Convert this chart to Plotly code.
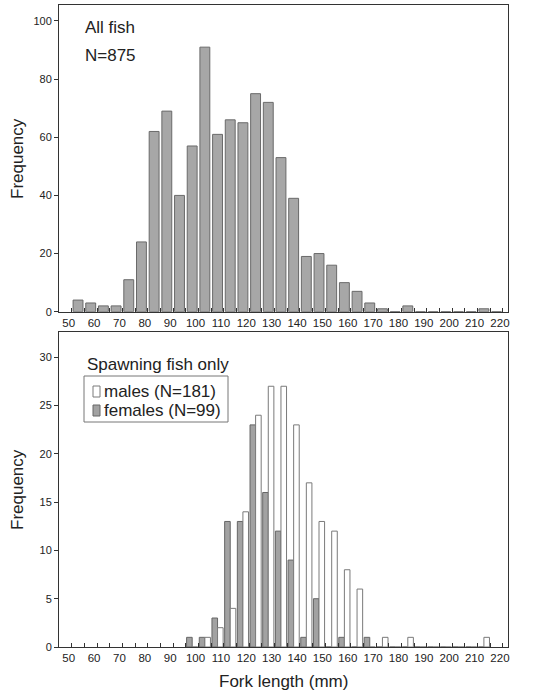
import plotly.graph_objects as go

# ---- data (5 mm fork-length bins, lower bin edge) ----
all_bins = [50, 55, 60, 65, 70, 75, 80, 85, 90, 95, 100, 105, 110, 115, 120, 125,
            130, 135, 140, 145, 150, 155, 160, 165, 170, 175, 180, 185, 190, 195,
            200, 205, 210, 215]
all_freq = [4, 3, 2, 2, 11, 24, 62, 69, 40, 57, 91, 61, 66, 65, 75, 72,
            53, 39, 19, 20, 16, 10, 7, 3, 1, 0, 2, 0, 0, 0,
            0, 0, 1, 0]

sp_bins = [95, 100, 105, 110, 115, 120, 125, 130, 135, 140, 145, 150, 155, 160,
           165, 170, 175, 180, 185, 190, 195, 200, 205, 210]
female_freq = [1, 1, 3, 13, 13, 23, 16, 12, 9, 1, 5, 0, 1, 0,
               1, 0, 0, 0, 0, 0, 0, 0, 0, 0]
male_freq = [0, 1, 2, 4, 14, 24, 27, 27, 23, 17, 13, 12, 8, 6,
             0, 1, 0, 1, 0, 0, 0, 0, 0, 1]

x_tickvals = list(range(50, 225, 5))
x_ticktext = [str(v) if v % 10 == 0 else "" for v in x_tickvals]
top_yticks = [0, 20, 40, 60, 80, 100]
bot_yticks = [0, 5, 10, 15, 20, 25, 30]

BIN = 5
FONT = "Liberation Sans, Arial, Helvetica, sans-serif"
INK = "#222222"

fig = go.Figure()

fig.add_trace(go.Bar(
    x=[b + BIN / 2 for b in all_bins], y=all_freq, width=3.9,
    marker=dict(color="#a7a7a7", line=dict(color="#6a6a6a", width=1)),
    xaxis="x", yaxis="y", showlegend=False, name="All fish"))

fig.add_trace(go.Bar(
    x=[b + BIN / 2 for b in sp_bins], y=female_freq,
    marker=dict(color="#a2a2a2", line=dict(color="#666666", width=1)),
    xaxis="x2", yaxis="y2", showlegend=False, name="females (N=99)"))
fig.add_trace(go.Bar(
    x=[b + BIN / 2 for b in sp_bins], y=male_freq,
    marker=dict(color="#ffffff", line=dict(color="#7a7a7a", width=1)),
    xaxis="x2", yaxis="y2", showlegend=False, name="males (N=181)"))

# plot geometry (pixels)
W, H = 546, 693
L, R, T, B = 59, 38, 5, 46
PW, PH = W - L - R, H - T - B


def px(xp):
    return (xp - L) / PW


def py(yp):
    return (H - B - yp) / PH


xcommon = dict(range=[45, 222], tickmode="array", tickvals=x_tickvals,
               ticktext=x_ticktext, ticks="inside", ticklen=4, tickcolor="#333",
               showline=True, linecolor="#333", linewidth=1, mirror=True,
               showgrid=False, zeroline=False, ticklabelshift=-3,
               tickfont=dict(family=FONT, size=11.5, color=INK))
ycommon = dict(ticks="outside", ticklen=4, tickcolor="#333", showline=True,
               linecolor="#333", linewidth=1, mirror=True, showgrid=False,
               zeroline=False, tickfont=dict(family=FONT, size=11, color=INK))

fig.update_layout(
    width=W, height=H, margin=dict(l=L, r=R, t=T, b=B),
    paper_bgcolor="white", plot_bgcolor="white",
    barmode="group", bargap=0.12, bargroupgap=0,
    showlegend=False,
    xaxis=dict(domain=[0, 1], anchor="y", **xcommon),
    yaxis=dict(domain=[py(311.7), 1], anchor="x", range=[0, 105.5],
               tickvals=top_yticks, **ycommon),
    xaxis2=dict(domain=[0, 1], anchor="y2", **xcommon),
    yaxis2=dict(domain=[0, py(331.7)], anchor="x2", range=[0, 32.65],
                tickvals=bot_yticks, **ycommon),
)

ann = []
ann.append(dict(text="All fish", x=px(83), y=py(27), xref="paper", yref="paper",
                xanchor="left", yanchor="middle", showarrow=False,
                font=dict(family=FONT, size=17, color=INK)))
ann.append(dict(text="N=875", x=px(83), y=py(55), xref="paper", yref="paper",
                xanchor="left", yanchor="middle", showarrow=False,
                font=dict(family=FONT, size=17, color=INK)))
ann.append(dict(text="Spawning fish only", x=px(85), y=py(364), xref="paper",
                yref="paper", xanchor="left", yanchor="middle", showarrow=False,
                font=dict(family=FONT, size=17, color=INK)))
ann.append(dict(text="males (N=181)", x=px(102), y=py(391.7), xref="paper",
                yref="paper", xanchor="left", yanchor="middle", showarrow=False,
                font=dict(family=FONT, size=17, color=INK)))
ann.append(dict(text="females (N=99)", x=px(102), y=py(410.7), xref="paper",
                yref="paper", xanchor="left", yanchor="middle", showarrow=False,
                font=dict(family=FONT, size=17, color=INK)))
for yc in (158.5, 489.5):
    ann.append(dict(text="Frequency", x=px(17.5), y=py(yc), xref="paper",
                    yref="paper", xanchor="center", yanchor="middle",
                    textangle=-90, showarrow=False,
                    font=dict(family=FONT, size=17, color=INK)))
ann.append(dict(text="Fork length (mm)", x=px(283.5), y=py(681.7), xref="paper",
                yref="paper", xanchor="center", yanchor="middle",
                showarrow=False, font=dict(family=FONT, size=17, color=INK)))
fig.update_layout(annotations=ann)

shapes = [
    dict(type="rect", xref="paper", yref="paper", x0=px(84), x1=px(228),
         y0=py(422), y1=py(376), line=dict(color="#777", width=1),
         fillcolor="white", layer="above"),
    dict(type="rect", xref="paper", yref="paper", x0=px(93), x1=px(100),
         y0=py(397), y1=py(386), line=dict(color="#7a7a7a", width=1),
         fillcolor="white", layer="above"),
    dict(type="rect", xref="paper", yref="paper", x0=px(93), x1=px(100),
         y0=py(416), y1=py(405), line=dict(color="#666666", width=1),
         fillcolor="#a2a2a2", layer="above"),
]
fig.update_layout(shapes=shapes)

fig.write_html("out.html")
